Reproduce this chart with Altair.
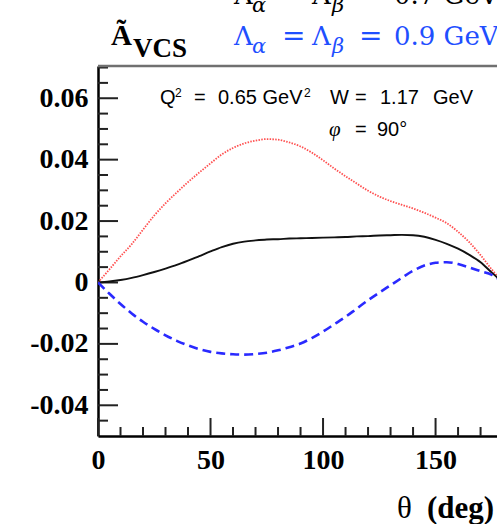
import altair as alt
import pandas as pd

# ---------------- data ----------------
theta = [0, 5, 10, 15, 20, 25, 30, 35, 40, 45, 50, 55, 60, 65, 70, 75, 80, 85, 90,
         95, 100, 105, 110, 115, 120, 125, 130, 135, 140, 145, 150, 155, 160, 165,
         170, 175, 180]
red_09 = [0, 0.0042, 0.0085, 0.0125, 0.0172, 0.0218, 0.0258, 0.0293, 0.0327, 0.0358,
          0.0388, 0.0417, 0.0438, 0.0453, 0.0462, 0.0467, 0.0465, 0.0456, 0.0443,
          0.0423, 0.0398, 0.0371, 0.0346, 0.0322, 0.0299, 0.0280, 0.0265, 0.0253,
          0.0241, 0.0227, 0.0211, 0.0193, 0.0165, 0.0131, 0.0089, 0.0042, 0]
black_07 = [0, 0.0003, 0.0008, 0.0015, 0.0024, 0.0034, 0.0045, 0.0057, 0.0071, 0.0086,
            0.0101, 0.0115, 0.0126, 0.0133, 0.0137, 0.0140, 0.0141, 0.0143, 0.0144,
            0.0145, 0.0146, 0.0147, 0.0148, 0.0150, 0.0151, 0.0153, 0.0154, 0.0155,
            0.0154, 0.0149, 0.0139, 0.0126, 0.0110, 0.0090, 0.0066, 0.0032, 0]
blue_dash = [0, -0.0036, -0.0070, -0.0101, -0.0128, -0.0151, -0.0172, -0.0190, -0.0205,
             -0.0217, -0.0226, -0.0231, -0.0234, -0.0235, -0.0233, -0.0229, -0.0221,
             -0.0211, -0.0199, -0.0181, -0.0160, -0.0136, -0.0112, -0.0085, -0.0058,
             -0.0033, -0.0009, 0.0015, 0.0038, 0.0055, 0.0064, 0.0066, 0.0060, 0.0049,
             0.0037, 0.0025, 0]

x_major = [0, 50, 100, 150]
x_minor = [10, 20, 30, 40, 60, 70, 80, 90, 110, 120, 130, 140, 160, 170]
y_major = [-0.04, -0.02, 0, 0.02, 0.04, 0.06]
y_minor = [-0.045, -0.035, -0.03, -0.025, -0.015, -0.01, -0.005, 0.005, 0.01, 0.015,
           0.025, 0.03, 0.035, 0.045, 0.05, 0.055, 0.065, 0.07]

W, H = 399, 370
SERIF = "Liberation Serif"
SANS = "Liberation Sans"
MATH = "DejaVu Serif"

xscale = alt.Scale(domain=[0, 177.3], nice=False, zero=False)
yscale = alt.Scale(domain=[-0.05, 0.0705], nice=False, zero=False)

xaxis = alt.Axis(values=x_major, title=None, ticks=False, grid=False,
                 domainColor="black", domainWidth=2.5,
                 labelFont=SERIF, labelFontWeight="bold", labelFontSize=28,
                 labelColor="black", labelPadding=10, labelFlush=False)
yaxis = alt.Axis(values=y_major, title=None, ticks=False, grid=False,
                 domainColor="black", domainWidth=2.5,
                 labelFont=SERIF, labelFontWeight="bold", labelFontSize=28,
                 labelColor="black", labelPadding=10,
                 labelExpr="datum.value == 0 ? '0' : (datum.value < 0 ? '-' + format(-datum.value, '.2f') : format(datum.value, '.2f'))")

X = lambda f: alt.X(f, scale=xscale, axis=xaxis)
Y = lambda f: alt.Y(f, scale=yscale, axis=yaxis)

df = pd.DataFrame({"theta": theta, "red": red_09, "black": black_07, "blue": blue_dash})

red_line = alt.Chart(df).mark_line(color="#ff5050", strokeWidth=1.8, strokeDash=[1.5, 1.3],
                                   clip=True, interpolate="monotone").encode(x=X("theta:Q"), y=Y("red:Q"))
black_line = alt.Chart(df).mark_line(color="#111", strokeWidth=1.9, clip=True,
                                     interpolate="monotone").encode(x=X("theta:Q"), y=Y("black:Q"))
blue_line = alt.Chart(df).mark_line(color="#2a2aff", strokeWidth=2.6, strokeDash=[9, 5],
                                    clip=True, interpolate="monotone").encode(x=X("theta:Q"), y=Y("blue:Q"))

ytm = alt.Chart(pd.DataFrame({"v": y_major})).mark_rule(color="#222", strokeWidth=2).encode(
    y=Y("v:Q"), x=alt.value(0), x2=alt.value(20))
ytn = alt.Chart(pd.DataFrame({"v": y_minor})).mark_rule(color="#222", strokeWidth=2).encode(
    y=Y("v:Q"), x=alt.value(0), x2=alt.value(10))
xtm = alt.Chart(pd.DataFrame({"theta": x_major})).mark_rule(color="#222", strokeWidth=2).encode(
    x=X("theta:Q"), y=alt.value(H), y2=alt.value(H - 18))
xtn = alt.Chart(pd.DataFrame({"theta": x_minor})).mark_rule(color="#222", strokeWidth=2).encode(
    x=X("theta:Q"), y=alt.value(H), y2=alt.value(H - 9))
top = alt.Chart(pd.DataFrame({"a": [0]})).mark_rule(color="#707070", strokeWidth=2.5).encode(
    x=alt.value(0), x2=alt.value(W), y=alt.value(0))


def txt(s, x, y, size, font, color="black", weight="normal", style="normal"):
    return alt.Chart(pd.DataFrame({"t": [s]})).mark_text(
        align="left", baseline="alphabetic", fontSize=size, font=font,
        fontWeight=weight, fontStyle=style, color=color).encode(
        x=alt.value(x), y=alt.value(y), text="t:N")


BLUE = "#1f4fff"
texts = [
    # y title
    txt("Ã", 13, -21, 29, SERIF, weight="bold"),
    txt("VCS", 35, -9, 27, SERIF, weight="bold"),
    # x title
    txt("θ", 299, 452, 31, SERIF),
    txt("(deg)", 329, 452, 31, SERIF, weight="bold"),
]
for base, col, val in [(-62, "black", "0.7 GeV"), (-21, BLUE, "0.9 GeV")]:
    texts += [
        txt("Λ", 136, base, 26, MATH, col),
        txt("α", 154, base + 8, 21, MATH, col, style="italic"),
        txt("=", 184, base, 28, MATH, col),
        txt("Λ", 214, base, 26, MATH, col),
        txt("β", 234, base + 8, 21, MATH, col, style="italic"),
        txt("=", 261, base, 28, MATH, col),
        txt(val, 296, base, 26, MATH, col),
    ]
texts += [
    txt("Q", 62, 38, 20, SANS),
    txt("2", 77, 31, 12, SANS),
    txt("=", 96, 38, 20, SANS),
    txt("0.65 GeV", 120, 38, 20, SANS),
    txt("2", 206, 31, 12, SANS),
    txt("W", 232, 38, 20, SANS),
    txt("=", 257, 38, 20, SANS),
    txt("1.17", 282, 38, 20, SANS),
    txt("GeV", 335, 38, 20, SANS),
    txt("φ", 231, 70, 21, SERIF, style="italic"),
    txt("=", 257, 70, 20, SANS),
    txt("90°", 279, 70, 20, SANS),
]

chart = alt.layer(ytm, ytn, xtm, xtn, top, red_line, black_line, blue_line, *texts).properties(
    width=W, height=H,
    padding={"left": 98, "top": 66, "right": 0, "bottom": 88},
    autosize=alt.AutoSizeParams(type="none"),
).configure_view(stroke=None)

chart.save("out.html", embed_options={"renderer": "svg", "actions": False})
